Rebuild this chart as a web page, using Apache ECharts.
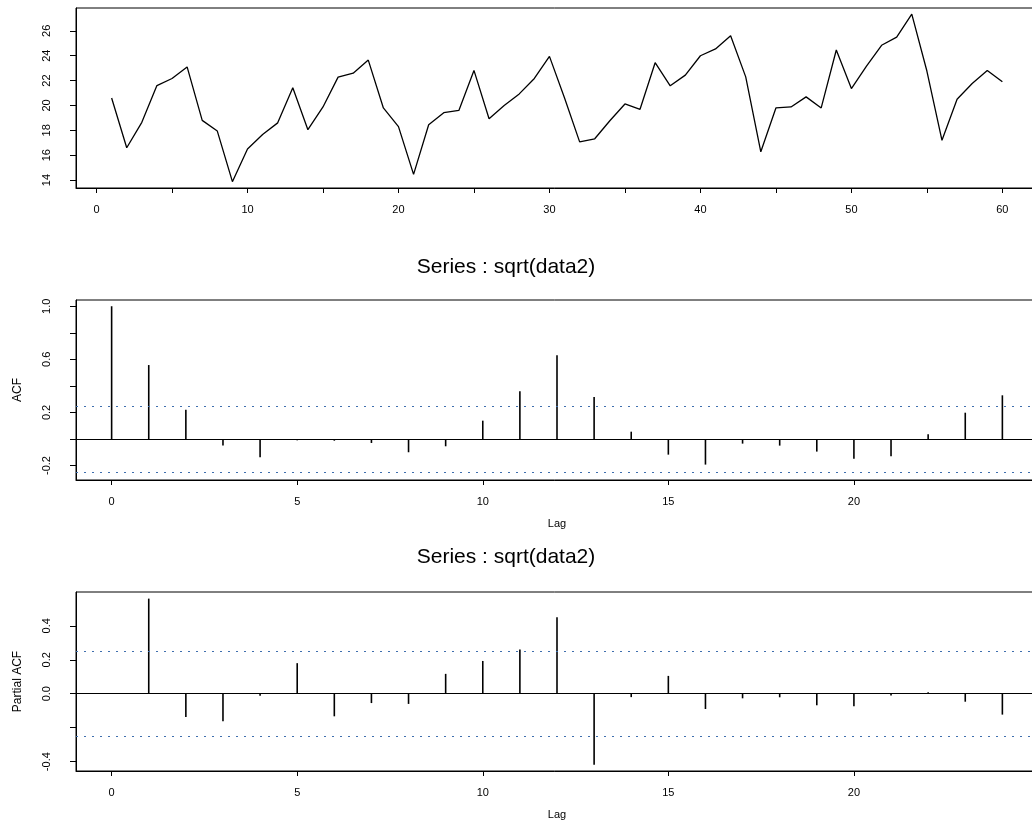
<!DOCTYPE html>
<html>
<head>
<meta charset="utf-8">
<script src="https://cdn.jsdelivr.net/npm/echarts@6/dist/echarts.min.js"></script>
<style>
  html, body { margin: 0; padding: 0; background: #fff; }
  #graph { width: 1032px; height: 820px; }
</style>
</head>
<body>
<div id="graph"></div>
<script>
// series values
var seriesValues = [20.6, 16.6, 18.64, 21.6, 22.17, 23.1, 18.8, 17.94, 13.87, 16.5,
  17.67, 18.6, 21.42, 18.05, 19.88, 22.28, 22.6, 23.65, 19.8, 18.3,
  14.46, 18.45, 19.42, 19.6, 22.82, 18.93, 19.99, 20.93, 22.17, 23.95,
  20.6, 17.07, 17.32, 18.77, 20.12, 19.69, 23.44, 21.58, 22.44, 24.0,
  24.55, 25.6, 22.3, 16.27, 19.8, 19.88, 20.69, 19.8, 24.46, 21.36,
  23.17, 24.84, 25.5, 27.35, 22.77, 17.2, 20.5, 21.77, 22.82, 21.9];

var acfValues = [1.0, 0.557, 0.221, -0.05, -0.138, -0.01, -0.013, -0.03, -0.10, -0.055,
  0.138, 0.359, 0.63, 0.316, 0.055, -0.118, -0.193, -0.035, -0.05, -0.095,
  -0.148, -0.13, 0.035, 0.198, 0.329];

// pacf starts at lag 1
var pacfValues = [0.56, -0.137, -0.162, -0.012, 0.18, -0.133, -0.055, -0.06, 0.117, 0.193,
  0.26, 0.451, -0.418, -0.02, 0.105, -0.09, -0.027, -0.021, -0.068, -0.074,
  -0.01, 0.008, -0.047, -0.123];

var confLimit = 0.253;

var topXTicks = [0, 5, 10, 15, 20, 25, 30, 35, 40, 45, 50, 55, 60];
var topXLabels = [0, 10, 20, 30, 40, 50, 60];
var topYTicks = [14, 16, 18, 20, 22, 24, 26];
var lagTicks = [0, 5, 10, 15, 20];
var acfYTicks = [-0.2, 0, 0.2, 0.4, 0.6, 0.8, 1.0];
var acfYLabels = [-0.2, 0.2, 0.6, 1.0];
var pacfYTicks = [-0.4, -0.2, 0, 0.2, 0.4];
var pacfYLabels = [-0.4, 0, 0.2, 0.4];

var font = 'Liberation Sans, Arial, sans-serif';

function pairs(vals, start) {
  var out = [];
  for (var i = 0; i < vals.length; i++) out.push([i + start, vals[i]]);
  return out;
}

function xAx(idx, min, max, ticks, labels, name) {
  return {
    type: 'value', gridIndex: idx, min: min, max: max,
    name: name || '', nameLocation: 'middle', nameGap: 38,
    nameTextStyle: { fontFamily: font, fontSize: 11, color: '#000' },
    axisLine: { show: true, onZero: false, lineStyle: { color: '#000', width: 1 } },
    axisTick: { show: true, inside: false, length: 5, customValues: ticks, lineStyle: { color: '#000' } },
    axisLabel: { customValues: labels, margin: 16, fontFamily: font, fontSize: 11, color: '#000' },
    splitLine: { show: false }
  };
}

function yAx(idx, min, max, ticks, labels, name, fmt) {
  return {
    type: 'value', gridIndex: idx, min: min, max: max,
    name: name || '', nameLocation: 'middle', nameGap: 52, nameRotate: 90,
    nameTextStyle: { fontFamily: font, fontSize: 12, color: '#000' },
    axisLine: { show: true, onZero: false, lineStyle: { color: '#000', width: 1 } },
    axisTick: { show: true, inside: false, length: 6, customValues: ticks, lineStyle: { color: '#000' } },
    axisLabel: { customValues: labels, rotate: 90, margin: 24, fontFamily: font, fontSize: 11, color: '#000',
      formatter: fmt },
    splitLine: { show: false }
  };
}

function fmt1(v) { return (Math.round(v * 10) / 10).toFixed(1); }

function limits() {
  return {
    silent: true, symbol: 'none', label: { show: false },
    data: [
      { yAxis: confLimit, lineStyle: { color: '#3f6fae', type: [2, 6], width: 1.2 } },
      { yAxis: -confLimit, lineStyle: { color: '#3f6fae', type: [2, 6], width: 1.2 } },
      { yAxis: 0, lineStyle: { color: '#000', type: 'solid', width: 1.2 } }
    ]
  };
}

var myChart = echarts.init(document.getElementById('graph'), null, { renderer: 'canvas' });

var option = {
  animation: false,
  backgroundColor: '#fff',
  title: [
    { text: 'Series : sqrt(data2)', left: 501, top: 252, textAlign: 'center',
      textStyle: { fontFamily: font, fontSize: 21, fontWeight: 'normal', color: '#000' } },
    { text: 'Series : sqrt(data2)', left: 501, top: 542, textAlign: 'center',
      textStyle: { fontFamily: font, fontSize: 21, fontWeight: 'normal', color: '#000' } }
  ],
  grid: [
    { left: 76, top: 8, width: 962, height: 180, show: true, borderColor: '#000', borderWidth: 1,
      outerBoundsMode: 'none', containLabel: false },
    { left: 76, top: 300, width: 962, height: 180, show: true, borderColor: '#000', borderWidth: 1,
      outerBoundsMode: 'none', containLabel: false },
    { left: 76, top: 592, width: 962, height: 179, show: true, borderColor: '#000', borderWidth: 1,
      outerBoundsMode: 'none', containLabel: false }
  ],
  xAxis: [
    xAx(0, -1.36, 62.36, topXTicks, topXLabels),
    xAx(1, -0.96, 24.96, lagTicks, lagTicks, 'Lag'),
    xAx(2, -0.96, 24.96, lagTicks, lagTicks, 'Lag')
  ],
  yAxis: [
    yAx(0, 13.36, 27.84, topYTicks, topYTicks, '', function (v) { return String(Math.round(v)); }),
    yAx(1, -0.309, 1.047, acfYTicks, acfYLabels, 'ACF', fmt1),
    yAx(2, -0.455, 0.599, pacfYTicks, pacfYLabels, 'Partial ACF', fmt1)
  ],
  series: [
    {
      type: 'line', xAxisIndex: 0, yAxisIndex: 0,
      data: pairs(seriesValues, 1),
      showSymbol: false, symbol: 'none',
      lineStyle: { color: '#000', width: 1.3 }
    },
    {
      type: 'bar', xAxisIndex: 1, yAxisIndex: 1,
      data: pairs(acfValues, 0),
      barWidth: 1.6, itemStyle: { color: '#000' },
      markLine: limits()
    },
    {
      type: 'bar', xAxisIndex: 2, yAxisIndex: 2,
      data: pairs(pacfValues, 1),
      barWidth: 1.6, itemStyle: { color: '#000' },
      markLine: limits()
    }
  ]
};

myChart.setOption(option, true);
</script>
</body>
</html>
